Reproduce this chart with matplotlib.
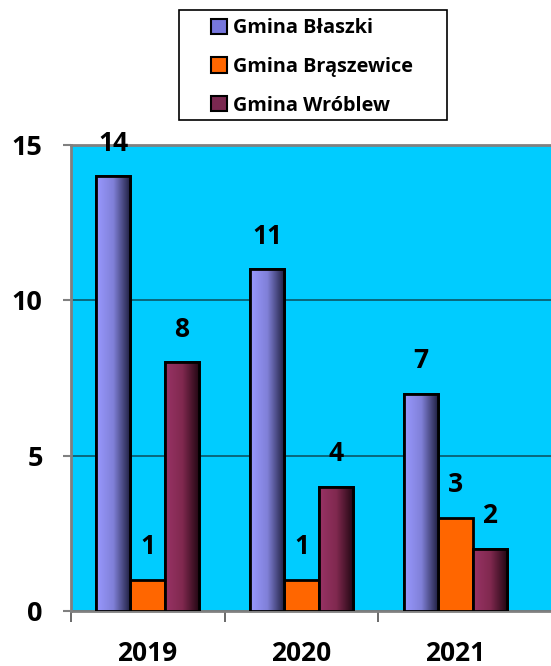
import matplotlib
matplotlib.use("Agg")
import matplotlib.pyplot as plt
import numpy as np
from matplotlib.colors import LinearSegmentedColormap
from matplotlib.patches import Patch, Rectangle

years = ["2019", "2020", "2021"]
series = ["Gmina Błaszki", "Gmina Brąszewice", "Gmina Wróblew"]
blaszki = [14, 11, 7]
braszewice = [1, 1, 3]
wroblew = [8, 4, 2]

plt.rcParams['font.family'] = ['Open Sans', 'DejaVu Sans']
plt.rcParams['font.weight'] = 'bold'

W, H = 551, 666
fig = plt.figure(figsize=(W / 100, H / 100), dpi=100)
x_left, x_right = 70.5, 551
y_top, y_bot = 145, 611
ax = fig.add_axes([x_left / W, 1 - y_bot / H, (x_right - x_left) / W, (y_bot - y_top) / H])
ax.set_facecolor('#00CCFF')

x = np.arange(len(years))
w = 0.223
cmaps = [
    LinearSegmentedColormap.from_list('b', ['#9999FF', '#8080d8', '#1c1c3a']),
    None,
    LinearSegmentedColormap.from_list('p', ['#993366', '#80294f', '#1e0610']),
]
colors = ['#9999FF', '#FF6600', '#993366']
grad = np.linspace(0, 1, 256).reshape(1, -1)

for i, vals in enumerate([blaszki, braszewice, wroblew]):
    pos = x + (i - 1) * w
    bars = ax.bar(pos, vals, w, color=colors[i], edgecolor='black', lw=2, zorder=3)
    for b, v in zip(bars, vals):
        if cmaps[i] is not None:
            im = ax.imshow(grad, cmap=cmaps[i], aspect='auto', zorder=3.5,
                           extent=[b.get_x(), b.get_x() + w, 0, v])
            im.set_clip_path(b)
            ax.bar(b.get_x() + w / 2, v, w, fill=False, edgecolor='black', lw=2, zorder=4)
        ax.annotate(str(v), (b.get_x() + w / 2, v), xytext=(0, 14), textcoords='offset points',
                    ha='center', va='bottom', fontsize=19, fontweight='bold', zorder=5)

x_max = -0.5 + (x_right - x_left) / 154
ax.set_xlim(-0.5, x_max)
ax.set_ylim(0, 15)
ax.set_yticks([0, 5, 10, 15])
ax.set_xticks(x)
ax.set_xticklabels(years)
ax.set_xticks([-0.5, 0.5, 1.5], minor=True)
ax.tick_params(axis='x', which='major', length=0, pad=21, labelsize=19)
ax.tick_params(axis='x', which='minor', length=8, width=1.2, color='#505050')
ax.tick_params(axis='y', length=6, width=1.5, color='#808080', pad=14, labelsize=19.5)
ax.yaxis.grid(True, color='#0b5f72', lw=1.3, zorder=1)
ax.set_axisbelow(True)
for s in ['left', 'bottom', 'top']:
    ax.spines[s].set_color('#808080')
    ax.spines[s].set_linewidth(2)
ax.spines['right'].set_visible(False)

# legend frame drawn by hand, entries placed inside it
fig.patches.append(Rectangle((179 / W, 1 - 120 / H), (447 - 179) / W, 110 / H,
                             transform=fig.transFigure, facecolor='white',
                             edgecolor='black', lw=1.2))
handles = [Patch(facecolor=c, edgecolor='black', lw=1.5) for c in ['#7777dd', '#FF6600', '#7a2850']]
leg = fig.legend(handles, series, loc='upper left',
                 bbox_to_anchor=(211 / W, 1 - 18 / H),
                 frameon=False, handlelength=0.8, handleheight=0.8, handletextpad=0.3,
                 labelspacing=0.95, borderpad=0, borderaxespad=0,
                 prop={'size': 14.3, 'weight': 'bold'})

fig.savefig('out.png', dpi=100)
